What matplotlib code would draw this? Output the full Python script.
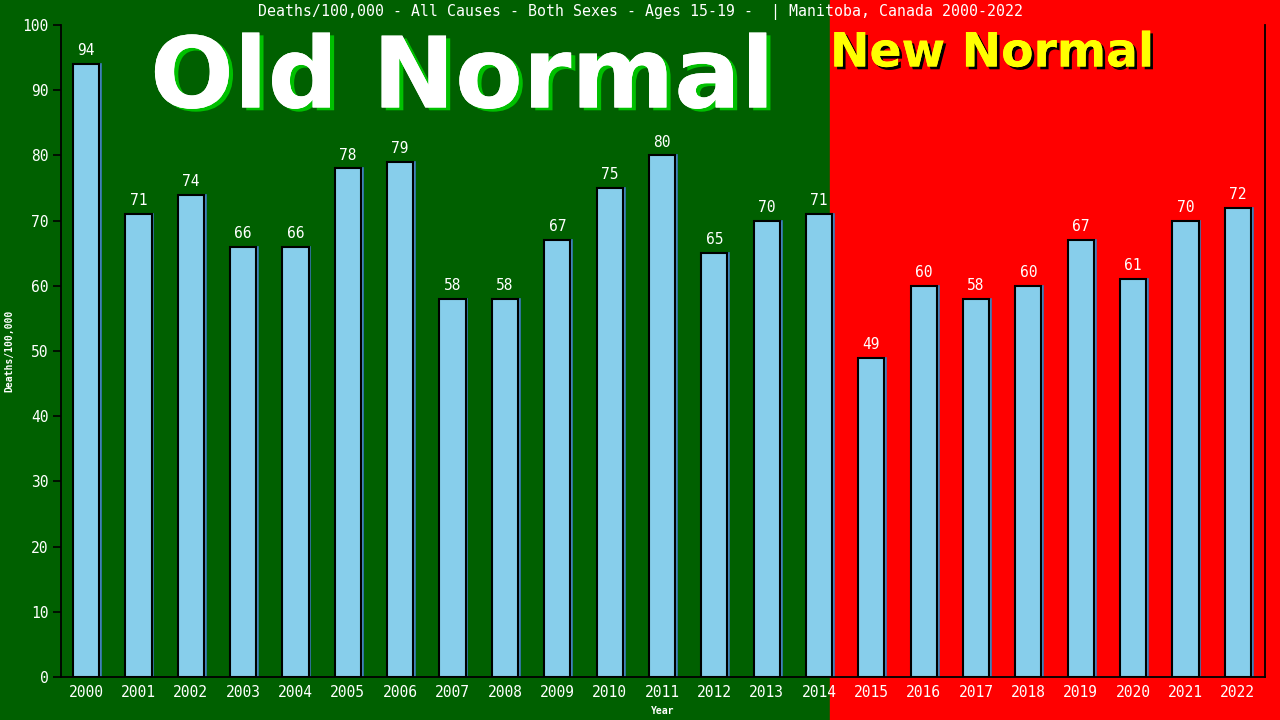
import matplotlib.pyplot as plt
import matplotlib.patheffects as pe

years = list(range(2000, 2023))
values = [94, 71, 74, 66, 66, 78, 79, 58, 58, 67, 75, 80, 65, 70, 71,
          49, 60, 58, 60, 67, 61, 70, 72]
title = "Deaths/100,000 - All Causes - Both Sexes - Ages 15-19 -  | Manitoba, Canada 2000-2022"

MONO = "DejaVu Sans Mono"
GREEN = "#006000"
RED = "#ff0000"
BAR = "#87ceeb"

fig = plt.figure(figsize=(12.8, 7.2), dpi=100, facecolor=GREEN)

# background split: old normal (green) / new normal (red)
split = 830 / 1280
fig.patches.append(plt.Rectangle((0, 0), split, 1, transform=fig.transFigure,
                                 color=GREEN, zorder=-10))
fig.patches.append(plt.Rectangle((split, 0), 1 - split, 1, transform=fig.transFigure,
                                 color=RED, zorder=-10))

ax = fig.add_axes([61 / 1280, 1 - 677 / 720, (1265 - 61) / 1280, (677 - 25) / 720])
ax.set_facecolor("none")
ax.set_zorder(2)

x = list(range(len(years)))
# thin blue shadow behind each bar
ax.bar([i + 0.035 for i in x], values, width=0.5, color=BAR, edgecolor="#3a7ab8",
       linewidth=1.2, zorder=2)
ax.bar(x, values, width=0.5, color=BAR, edgecolor="black", linewidth=1.5, zorder=3)

for i, v in zip(x, values):
    ax.text(i, v + 0.9, str(v), ha="center", va="bottom", color="white",
            fontsize=10.5, family=MONO, zorder=4)

ax.set_xlim(-0.48, 22.52)
ax.set_ylim(0, 100)
ax.set_yticks(range(0, 101, 10))
ax.set_xticks(x)
ax.set_xticklabels([str(y) for y in years], family=MONO, fontsize=10.5, color="white")
for lab in ax.get_yticklabels():
    lab.set_family(MONO)
    lab.set_fontsize(10.5)
    lab.set_color("white")
ax.tick_params(axis="y", length=6, width=1.2, color="black", pad=3)
ax.tick_params(axis="x", length=0, pad=6)

ax.spines["top"].set_visible(False)
for s in ("left", "bottom", "right"):
    ax.spines[s].set_color("black")
    ax.spines[s].set_linewidth(1.3)

ax.set_xlabel("Year", family=MONO, fontsize=7, fontweight="bold", color="white", labelpad=4)
ax.set_ylabel("Deaths/100,000", family=MONO, fontsize=7, fontweight="bold", color="white",
              labelpad=6)

fig.text(0.5, 1 - 12 / 720, title, ha="center", va="center", color="white",
         fontsize=10.7, family=MONO)

fig.text(150 / 1280, 1 - 80 / 720, "Old Normal", ha="left", va="center", color="white",
         fontsize=71, fontweight="bold", family="DejaVu Sans", zorder=1,
         path_effects=[pe.withSimplePatchShadow(offset=(3, -2), shadow_rgbFace="#00c000",
                                                alpha=1.0), pe.Normal()])
fig.text(830 / 1280, 1 - 54 / 720, "New Normal", ha="left", va="center", color="#ffff00",
         fontsize=34, fontweight="bold", family="DejaVu Sans", zorder=1,
         path_effects=[pe.withSimplePatchShadow(offset=(2, -2), shadow_rgbFace="black",
                                                alpha=1.0), pe.Normal()])

fig.savefig("out.png", dpi=100, facecolor=fig.get_facecolor())
